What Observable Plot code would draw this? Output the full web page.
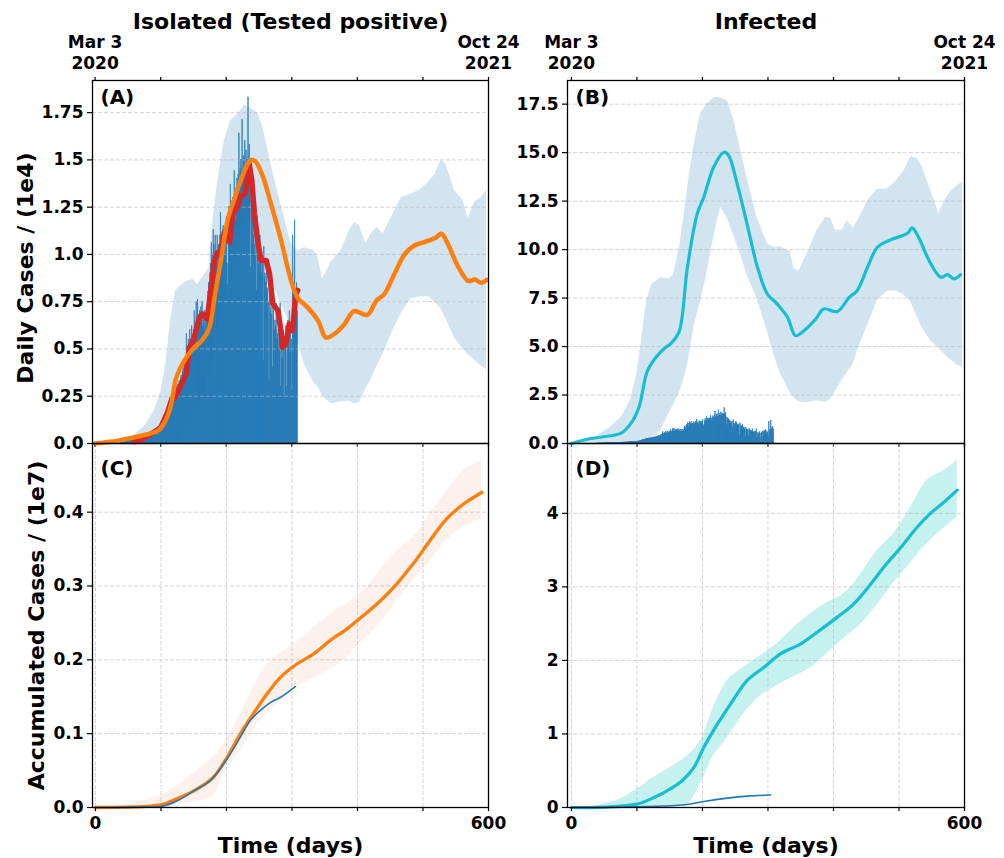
<!DOCTYPE html>
<html><head><meta charset="utf-8">
<script src="https://cdn.jsdelivr.net/npm/d3@7"></script>
<script src="https://cdn.jsdelivr.net/npm/@observablehq/plot@0.6"></script>
<style>
html,body{margin:0;padding:0;background:#fff;}
#chart{position:relative;width:1004px;height:858px;overflow:hidden;background:#fff;}
#chart svg{position:absolute;overflow:visible;}
</style></head><body><div id="chart"></div>
<script>
// ---------- text ----------
const titleA = "Isolated (Tested positive)";
const titleB = "Infected";
const yLabelTop = "Daily Cases / (1e4)";
const yLabelBottom = "Accumulated Cases / (1e7)";
const xLabel = "Time (days)";
const panelLabels = ["(A)", "(B)", "(C)", "(D)"];

// ---------- ticks ----------
const xTicks = [0, 100, 200, 300, 400, 500, 600];
const topTickLabels = ["Mar 3\n2020", "", "", "", "", "", "Oct 24\n2021"];
const bottomTickLabels = ["0", "", "", "", "", "", "600"];
const yTicksA = [0, 0.25, 0.5, 0.75, 1, 1.25, 1.5, 1.75];
const yLabelsA = ["0.0", "0.25", "0.5", "0.75", "1.0", "1.25", "1.5", "1.75"];
const yTicksB = [0, 2.5, 5, 7.5, 10, 12.5, 15, 17.5];
const yLabelsB = ["0.0", "2.5", "5.0", "7.5", "10.0", "12.5", "15.0", "17.5"];
const yTicksC = [0, 0.1, 0.2, 0.3, 0.4];
const yLabelsC = ["0.0", "0.1", "0.2", "0.3", "0.4"];
const yTicksD = [0, 1, 2, 3, 4];
const yLabelsD = ["0", "1", "2", "3", "4"];

// ---------- observed daily cases (1e4), days 40..309 ----------
const barStartDay = 40;
const dailyCases = [
  0.004,0.005,0.005,0.006,0.007,0.006,0.008,0.008,0.009,0.01,
  0.01,0.011,0.012,0.011,0.013,0.014,0.013,0.015,0.016,0.015,
  0.017,0.018,0.02,0.019,0.022,0.024,0.023,0.026,0.028,0.027,
  0.03,0.032,0.031,0.035,0.038,0.036,0.04,0.043,0.041,0.046,
  0.048,0.052,0.05,0.055,0.058,0.054,0.06,0.063,0.061,0.066,
  0.068,0.072,0.07,0.075,0.078,0.074,0.08,0.083,0.081,0.086,
  0.09,0.095,0.1,0.11,0.105,0.12,0.13,0.14,0.15,0.16,
  0.17,0.18,0.2,0.19,0.22,0.24,0.21,0.25,0.23,0.26,
  0.25,0.27,0.24,0.28,0.26,0.3,0.28,0.31,0.29,0.33,
  0.31,0.34,0.36,0.33,0.38,0.4,0.37,0.42,0.45,0.43,
  0.58,0.5,0.48,0.55,0.52,0.6,0.5,0.55,0.62,0.54,
  0.56,0.6,0.7,0.55,0.62,0.75,0.65,0.76,0.6,0.68,
  0.7,0.64,0.72,0.66,0.75,0.62,0.68,0.6,0.7,0.64,
  0.62,0.7,0.66,0.8,0.85,0.78,0.9,0.95,1.06,0.88,
  1.0,1.13,1.05,0.98,1.1,0.96,1.02,1.1,0.95,1.05,
  1.05,1.1,1.22,1.0,1.08,0.98,1.15,1.05,1.12,1.0,
  1.1,1.2,0.95,0.84,1.15,1.25,1.1,1.37,1.2,1.28,
  1.22,1.3,1.25,1.44,1.3,1.18,1.35,1.4,1.3,1.42,
  1.64,1.35,1.45,1.5,1.38,1.71,1.4,1.52,1.45,1.6,
  1.42,1.55,1.5,1.48,1.83,1.5,1.58,1.35,0.93,1.3,
  1.25,1.2,1.1,1.15,1.05,1.0,1.12,0.81,1.2,1.0,
  0.95,1.05,1.1,1.02,0.9,0.98,0.95,0.44,1.04,0.88,
  0.9,0.85,0.95,0.8,0.82,0.75,0.33,0.81,0.7,0.72,
  0.68,0.4,0.75,0.7,0.6,0.65,0.62,0.74,0.55,0.58,
  0.6,0.5,0.62,0.74,0.3,0.55,0.45,0.52,0.6,0.25,
  0.5,0.55,0.62,0.3,0.58,0.65,0.6,0.7,0.48,0.62,
  0.55,0.28,1.1,0.6,0.7,1.18,0.8,0.75,0.85,0.7
];

// ---------- observed 7-day average (red) ----------
const redDays = [60, 70, 80, 90, 100, 110, 116, 123, 131, 139, 144, 151, 159, 164, 171, 177, 182, 187, 192, 197, 205, 210, 217, 222, 228, 231, 235, 239, 243, 248, 253, 261, 266, 271, 279, 284, 286, 291, 296, 301, 306, 309];
const redVals = [0.01, 0.02, 0.04, 0.06, 0.084, 0.16, 0.225, 0.25, 0.31, 0.37, 0.51, 0.56, 0.667, 0.685, 0.658, 0.826, 0.968, 1.01, 1.02, 1.118, 1.065, 1.215, 1.25, 1.31, 1.32, 1.374, 1.48, 1.39, 1.215, 1.07, 0.968, 0.968, 0.897, 0.738, 0.703, 0.579, 0.508, 0.526, 0.632, 0.597, 0.79, 0.81];

// ---------- model mean, daily isolated (orange, 1e4) ----------
const orangeDaysA = [0, 20, 40, 55, 80, 97, 110, 117, 123, 130, 142, 149, 164, 174, 182, 192, 202, 212, 222, 233, 238, 245, 256, 268, 284, 299, 309, 324, 340, 352, 365, 380, 395, 415, 429, 441, 457, 472, 487, 502, 520, 528, 538, 553, 569, 579, 589, 597];
const orangeA = [0, 0.008, 0.018, 0.03, 0.049, 0.07, 0.14, 0.225, 0.34, 0.40, 0.47, 0.50, 0.55, 0.61, 0.77, 0.97, 1.18, 1.29, 1.39, 1.48, 1.50, 1.49, 1.41, 1.27, 1.07, 0.86, 0.77, 0.72, 0.65, 0.56, 0.58, 0.63, 0.70, 0.68, 0.755, 0.79, 0.90, 1.00, 1.047, 1.065, 1.09, 1.11, 1.056, 0.94, 0.86, 0.867, 0.85, 0.865];

// ---------- model mean, daily infected (cyan, 1e4) ----------
const cyanDaysB = [0, 24, 49, 75, 90, 103, 116, 131, 144, 151, 164, 177, 192, 202, 217, 233, 240, 253, 268, 284, 299, 314, 330, 342, 355, 373, 385, 406, 424, 436, 452, 467, 487, 513, 520, 530, 546, 564, 574, 584, 594];
const cyanB = [0, 0.22, 0.35, 0.52, 1.0, 1.86, 3.75, 4.53, 4.96, 5.13, 5.73, 9.09, 11.84, 12.7, 14.25, 15.02, 14.85, 13.39, 11.33, 9.09, 7.71, 7.2, 6.5, 5.56, 5.82, 6.42, 6.94, 6.81, 7.54, 7.88, 9.09, 10.12, 10.5, 10.84, 11.12, 10.63, 9.43, 8.57, 8.71, 8.49, 8.71];

// ---------- ensemble ranges for daily panels ----------
const bandDaysAB = [0, 20, 40, 60, 75, 90, 100, 108, 115, 123, 136, 149, 156, 166, 174, 179, 187, 197, 207, 217, 222, 228, 238, 248, 256, 268, 283, 299, 309, 319, 334, 340, 347, 360, 375, 388, 396, 403, 413, 421, 430, 439, 452, 467, 482, 495, 508, 518, 528, 535, 548, 561, 569, 579, 589, 597];
const upperA = [0, 0.005, 0.02, 0.045, 0.09, 0.17, 0.27, 0.42, 0.65, 0.81, 0.85, 0.87, 0.84, 0.89, 0.93, 1.16, 1.39, 1.60, 1.71, 1.74, 1.76, 1.79, 1.77, 1.75, 1.67, 1.48, 1.27, 1.056, 1.02, 1.035, 1.02, 0.985, 0.87, 0.96, 1.02, 1.127, 1.17, 1.153, 1.056, 1.11, 1.144, 1.11, 1.197, 1.30, 1.32, 1.34, 1.38, 1.42, 1.50, 1.48, 1.34, 1.286, 1.19, 1.277, 1.30, 1.34];
const lowerA = [0, 0, 0, 0, 0, 0, 0, 0, 0, 0.01, 0.066, 0.155, 0.2, 0.27, 0.36, 0.45, 0.6, 0.74, 0.88, 1.06, 1.14, 1.21, 1.16, 1.07, 0.99, 0.87, 0.74, 0.62, 0.54, 0.42, 0.32, 0.30, 0.25, 0.21, 0.22, 0.225, 0.21, 0.215, 0.29, 0.34, 0.41, 0.47, 0.58, 0.69, 0.765, 0.775, 0.777, 0.75, 0.71, 0.66, 0.56, 0.50, 0.47, 0.44, 0.41, 0.39];
const upperB = [0, 0.1, 0.4, 0.85, 1.3, 2.2, 3.6, 5.6, 7.4, 8.2, 8.55, 8.5, 8.7, 10.3, 12.3, 13.6, 15.4, 17.0, 17.52, 17.8, 17.86, 17.8, 17.69, 16.66, 15.5, 13.7, 11.7, 10.3, 10.12, 10.15, 9.9, 9.0, 8.9, 9.8, 10.98, 11.67, 11.6, 11.0, 11.0, 11.5, 11.1, 11.6, 12.5, 13.1, 13.13, 13.5, 14.08, 14.8, 14.7, 14.3, 13.1, 11.84, 12.5, 13.0, 13.3, 13.47];
const lowerB = [0, 0, 0, 0, 0, 0, 0, 0, 0, 0.15, 0.66, 1.55, 2.0, 2.72, 3.58, 4.4, 5.99, 7.3, 8.8, 10.6, 11.4, 12.18, 11.6, 10.7, 9.95, 8.7, 7.5, 5.8, 4.6, 3.58, 2.6, 2.35, 2.15, 2.1, 2.2, 2.13, 2.3, 2.7, 3.25, 3.65, 4.1, 5.0, 6.1, 7.37, 7.85, 7.88, 7.65, 7.3, 6.5, 6.0, 5.3, 4.9, 4.61, 4.3, 4.05, 3.92];

// ---------- accumulated (1e7) ----------
const orangeDaysC = [0, 78, 104, 129, 155, 180, 201, 221, 241, 262, 282, 307, 333, 358, 384, 409, 435, 460, 485, 511, 536, 562, 590];
const orangeC = [0, 0.0014, 0.0046, 0.0136, 0.025, 0.041, 0.068, 0.0995, 0.127, 0.154, 0.176, 0.194, 0.208, 0.226, 0.242, 0.26, 0.28, 0.303, 0.33, 0.362, 0.391, 0.411, 0.427];
const obsDaysC = [0, 60, 104, 129, 150, 175, 201, 221, 236, 251, 267, 282, 295, 305];
const obsC = [0, 0.0005, 0.002, 0.011, 0.0226, 0.036, 0.066, 0.095, 0.1176, 0.131, 0.142, 0.149, 0.157, 0.1637];
const bandDaysC = [0, 30, 60, 80, 104, 129, 155, 180, 195, 205, 221, 235, 251, 267, 282, 300, 317, 343, 373, 404, 434, 460, 485, 511, 536, 562, 590];
const upperC = [0, 0.002, 0.006, 0.011, 0.018, 0.032, 0.05, 0.068, 0.085, 0.099, 0.127, 0.152, 0.18, 0.199, 0.209, 0.22, 0.2305, 0.251, 0.271, 0.289, 0.321, 0.348, 0.366, 0.398, 0.429, 0.4566, 0.47];
const lowerC = [0, 0, 0, 0, 0.001, 0.004, 0.008, 0.016, 0.045, 0.058, 0.076, 0.097, 0.1176, 0.133, 0.145, 0.158, 0.168, 0.18, 0.195, 0.222, 0.249, 0.28, 0.307, 0.3345, 0.362, 0.38, 0.391];

const cyanDaysD = [0, 49, 100, 126, 146, 169, 187, 202, 223, 243, 268, 294, 319, 350, 375, 406, 431, 457, 477, 503, 528, 548, 569, 589];
const cyanD = [0, 0.005, 0.046, 0.136, 0.227, 0.364, 0.545, 0.817, 1.136, 1.41, 1.726, 1.907, 2.09, 2.226, 2.384, 2.589, 2.77, 3.04, 3.27, 3.54, 3.815, 4.0, 4.155, 4.315];
const obsDaysD = [0, 100, 151, 179, 202, 238, 268, 304];
const obsD = [0, 0.008, 0.023, 0.045, 0.082, 0.128, 0.155, 0.169];
const bandDaysD = [0, 30, 49, 75, 100, 126, 151, 177, 197, 217, 238, 263, 289, 314, 340, 365, 391, 416, 442, 467, 492, 518, 543, 569, 589];
const upperD = [0, 0.01, 0.046, 0.114, 0.25, 0.41, 0.545, 0.70, 0.91, 1.36, 1.726, 1.907, 2.067, 2.226, 2.45, 2.635, 2.79, 2.907, 3.18, 3.497, 3.725, 4.087, 4.45, 4.587, 4.72];
const lowerD = [0, 0, 0, 0, 0, 0.005, 0.01, 0.045, 0.33, 0.7, 0.95, 1.28, 1.52, 1.66, 1.78, 1.9, 2.1, 2.3, 2.5, 2.76, 3.06, 3.33, 3.59, 3.8, 3.95];

// ---------- helpers ----------
const zip = (xs, ys) => xs.map((x, i) => ({x, y: ys[i]}));
const band = (xs, lo, hi) => xs.map((x, i) => ({x, y1: lo[i], y2: hi[i]}));
const fmt = (ticks, labels) => { const m = new Map(ticks.map((t, i) => [t, labels[i]])); return d => m.get(d) ?? ""; };
const bars = dailyCases.map((v, i) => ({day: barStartDay + i, v}));

const C_BLUE = "#1f77b4", C_ORANGE = "#ff7f0e", C_RED = "#d62728", C_CYAN = "#17becf";
const gridStyle = {stroke: "#b8b8b8", strokeOpacity: 0.6, strokeDasharray: "4,2", strokeWidth: 1};
const baseStyle = {fontFamily: "DejaVu Sans", fontSize: "17px", fontWeight: "bold", color: "black", background: "transparent", overflow: "visible", position: "absolute"};
const chart = document.getElementById("chart");
function place(svg, left, top) { svg.style.left = left + "px"; svg.style.top = top + "px"; chart.appendChild(svg); }
const barMark = () => Plot.rect(bars, {x1: d => d.day - 0.5, x2: d => d.day + 0.5, y1: 0, y2: "v", fill: C_BLUE, stroke: C_BLUE, strokeWidth: 0.45});

function commonTop(label, yTicks, yLabels, title) {
  return [
    Plot.axisY({ticks: yTicks, tickFormat: fmt(yTicks, yLabels), tickSize: 5, tickPadding: 4, strokeWidth: 1.2, label: null}),
    Plot.axisX({anchor: "top", ticks: xTicks, tickFormat: fmt(xTicks, topTickLabels), tickSize: 4, tickPadding: 8, lineHeight: 1.18, strokeWidth: 1.2, label: null}),
    Plot.axisX({anchor: "bottom", ticks: xTicks, tickFormat: () => "", tickSize: 4, strokeWidth: 1.2, label: null}),
    Plot.frame({stroke: "black", strokeWidth: 1.3}),
    Plot.text([label], {text: d => d, frameAnchor: "top-left", textAnchor: "start", lineAnchor: "top", dx: 8, dy: 9, fontSize: 20, fontWeight: "bold"}),
    Plot.text([title], {text: d => d, frameAnchor: "top", textAnchor: "middle", lineAnchor: "bottom", dy: -52, fontSize: 22, fontWeight: "bold"})
  ];
}
function commonBottom(label, yTicks, yLabels) {
  return [
    Plot.axisY({ticks: yTicks, tickFormat: fmt(yTicks, yLabels), tickSize: 5, tickPadding: 4, strokeWidth: 1.2, label: null}),
    Plot.axisX({anchor: "bottom", ticks: xTicks, tickFormat: fmt(xTicks, bottomTickLabels), tickSize: 4, tickPadding: 5, strokeWidth: 1.2, label: null}),
    Plot.frame({stroke: "black", strokeWidth: 1.3}),
    Plot.text([label], {text: d => d, frameAnchor: "top-left", textAnchor: "start", lineAnchor: "top", dx: 8, dy: 17, fontSize: 20, fontWeight: "bold"}),
    Plot.text([xLabel], {text: d => d, frameAnchor: "bottom", textAnchor: "middle", lineAnchor: "bottom", dy: 45, fontSize: 22, fontWeight: "bold"})
  ];
}

// ---------- Panel A ----------
place(Plot.plot({
  width: 500, height: 443, marginLeft: 92, marginRight: 12, marginTop: 80, marginBottom: 0,
  style: baseStyle,
  x: {domain: [-4, 600], axis: null},
  y: {domain: [0, 1.92], axis: null},
  marks: [
    Plot.areaY(band(bandDaysAB, lowerA, upperA), {x: "x", y1: "y1", y2: "y2", fill: C_BLUE, fillOpacity: 0.2}),
    barMark(),
    Plot.gridY(yTicksA.slice(1), gridStyle),
    Plot.line(zip(redDays, redVals), {x: "x", y: "y", stroke: C_RED, strokeWidth: 5.5}),
    Plot.line(zip(orangeDaysA, orangeA), {x: "x", y: "y", stroke: C_ORANGE, strokeWidth: 4.5, curve: "catmull-rom"}),
    ...commonTop(panelLabels[0], yTicksA, yLabelsA, titleA),
    Plot.text([yLabelTop], {text: d => d, frameAnchor: "left", rotate: -90, textAnchor: "middle", lineAnchor: "bottom", dx: -60, dy: 6, fontSize: 22, fontWeight: "bold"})
  ]
}), 0, 0);

// ---------- Panel B ----------
place(Plot.plot({
  width: 500, height: 443, marginLeft: 67, marginRight: 36, marginTop: 80, marginBottom: 0,
  style: baseStyle,
  x: {domain: [-6, 600], axis: null},
  y: {domain: [0, 18.72], axis: null},
  marks: [
    Plot.areaY(band(bandDaysAB, lowerB, upperB), {x: "x", y1: "y1", y2: "y2", fill: C_BLUE, fillOpacity: 0.2}),
    barMark(),
    Plot.gridY(yTicksB.slice(1), gridStyle),
    Plot.line(zip(cyanDaysB, cyanB), {x: "x", y: "y", stroke: C_CYAN, strokeWidth: 3.2, curve: "catmull-rom"}),
    ...commonTop(panelLabels[1], yTicksB, yLabelsB, titleB)
  ]
}), 500, 0);

// ---------- Panel C ----------
place(Plot.plot({
  width: 500, height: 415, marginLeft: 92, marginRight: 12, marginTop: 0, marginBottom: 51,
  style: baseStyle,
  x: {domain: [-4.5, 600], axis: null},
  y: {domain: [0, 0.493], axis: null},
  marks: [
    Plot.areaY(band(bandDaysC, lowerC, upperC), {x: "x", y1: "y1", y2: "y2", fill: "#fce8e2", fillOpacity: 0.6, curve: "catmull-rom"}),
    Plot.gridX(xTicks, gridStyle),
    Plot.gridY(yTicksC.slice(1), gridStyle),
    Plot.line(zip(orangeDaysC, orangeC), {x: "x", y: "y", stroke: C_ORANGE, strokeWidth: 3.3, curve: "catmull-rom"}),
    Plot.line(zip(obsDaysC, obsC), {x: "x", y: "y", stroke: C_BLUE, strokeWidth: 1.6, curve: "catmull-rom"}),
    ...commonBottom(panelLabels[2], yTicksC, yLabelsC),
    Plot.text([yLabelBottom], {text: d => d, frameAnchor: "left", rotate: -90, textAnchor: "middle", lineAnchor: "bottom", dx: -49, fontSize: 22, fontWeight: "bold"})
  ]
}), 0, 443);

// ---------- Panel D ----------
place(Plot.plot({
  width: 500, height: 415, marginLeft: 67, marginRight: 36, marginTop: 0, marginBottom: 51,
  style: baseStyle,
  x: {domain: [-6, 600], axis: null},
  y: {domain: [0, 4.95], axis: null},
  marks: [
    Plot.areaY(band(bandDaysD, lowerD, upperD), {x: "x", y1: "y1", y2: "y2", fill: "#bff0ec", fillOpacity: 0.9, curve: "catmull-rom"}),
    Plot.gridX(xTicks, gridStyle),
    Plot.gridY(yTicksD.slice(1), gridStyle),
    Plot.line(zip(cyanDaysD, cyanD), {x: "x", y: "y", stroke: C_CYAN, strokeWidth: 3.2, curve: "catmull-rom"}),
    Plot.line(zip(obsDaysD, obsD), {x: "x", y: "y", stroke: C_BLUE, strokeWidth: 1.6, curve: "catmull-rom"}),
    ...commonBottom(panelLabels[3], yTicksD, yLabelsD)
  ]
}), 500, 443);
</script>
</body></html>
